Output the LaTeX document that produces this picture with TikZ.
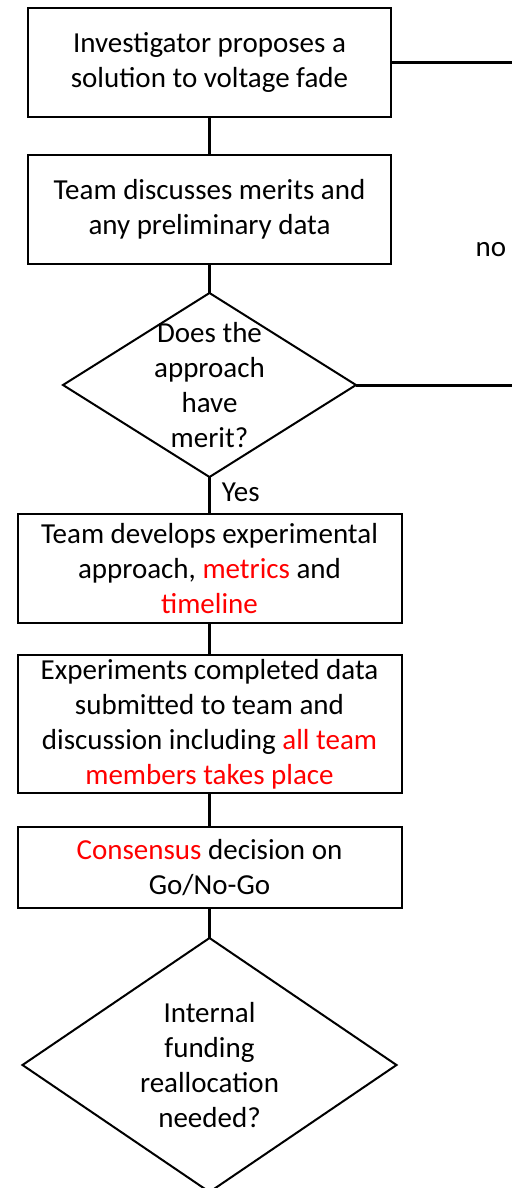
\documentclass[tikz,border=0pt]{standalone}
\usepackage{fontspec}
\setmainfont{Carlito}
\usepackage{xcolor}
\usetikzlibrary{positioning,shapes.geometric}

\begin{document}
\begin{tikzpicture}[
  x=0.5pt, y=-0.5pt,
  node distance=16pt,
  every node/.style={font=\fontsize{14.5}{17.5}\selectfont,align=center},
  flowbox/.style={draw,line width=1pt,minimum width=192pt,minimum height=54.5pt,inner sep=2pt,outer sep=0pt},
  decision/.style={draw,diamond,line width=1pt,inner sep=0pt,outer sep=0pt},
  link/.style={line width=1.5pt}
]
\useasboundingbox (0,0) rectangle (512,1188);

\node[flowbox,minimum width=181.5pt] (propose) at (209.5,62.5) {Investigator proposes a\\solution to voltage fade};
\node[flowbox,minimum width=181.5pt,below=19pt of propose] (discuss) {Team discusses merits and\\any preliminary data};
\node[decision,minimum width=146.5pt,minimum height=92pt,below=14.5pt of discuss] (merit) {};
\node at (merit) (meritq) {Does the\\approach\\have\\merit?};
\node[flowbox,below=18.5pt of merit] (develop) {Team develops experimental\\approach, \textcolor{red}{metrics} and\\\textcolor{red}{timeline}};
\node[flowbox,minimum height=69pt,below=16pt of develop] (results) {Experiments completed data\\submitted to team and\\discussion including \textcolor{red}{all team}\\\textcolor{red}{members takes place}};
\node[flowbox,minimum height=40.5pt,below=17pt of results] (consensus) {\textcolor{red}{Consensus} decision on\\Go/No-Go};
\node[decision,minimum width=187pt,minimum height=127pt,below=15pt of consensus] (funding) {};
\node at (funding) (fundingq) {Internal\\funding\\reallocation\\needed?};

% branches leaving to the right
\coordinate[right=62pt of propose.east] (outtop);
\coordinate[right=80pt of merit.east] (outmid);

\node[inner sep=0pt] (nolabel) at (491,250) {no};
\node[inner sep=0pt,below right=2.5pt and 6pt of merit.south] (yeslabel) {Yes};

\draw[link] (propose) -- (discuss);
\draw[link] (discuss) -- (merit);
\draw[link] (merit) -- (develop);
\draw[link] (develop) -- (results);
\draw[link] (results) -- (consensus);
\draw[link] (consensus) -- (funding);
\draw[link] (propose.east) -- (outtop);
\draw[link] (merit.east) -- (outmid);
\end{tikzpicture}
\end{document}
